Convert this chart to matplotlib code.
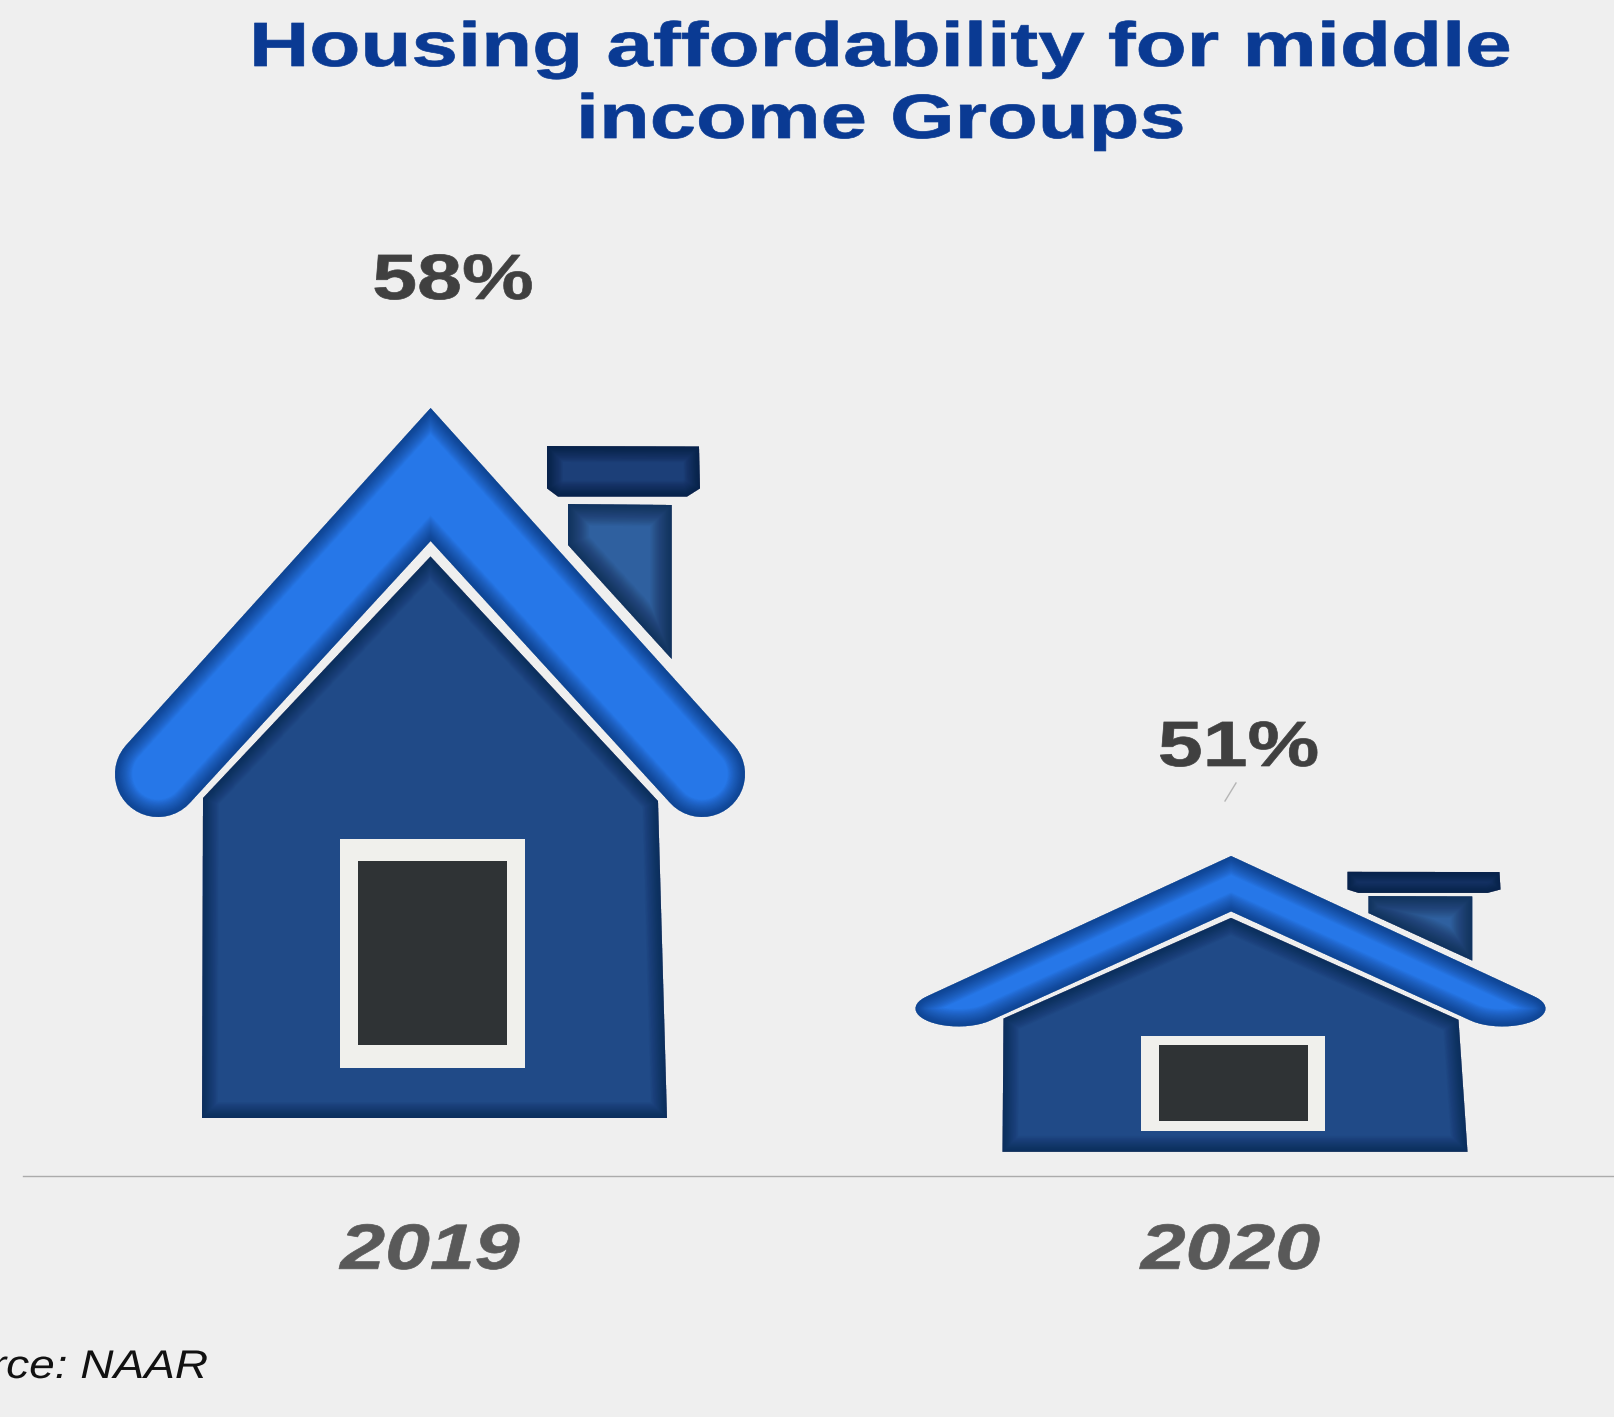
import numpy as np
import matplotlib
matplotlib.use("Agg")
import matplotlib.pyplot as plt
from matplotlib.lines import Line2D
from matplotlib.patches import PathPatch
from matplotlib.path import Path
from matplotlib.patheffects import AbstractPathEffect
from matplotlib.transforms import Affine2D

years = ["2019", "2020"]
affordability = [58, 51]
axis_floor = 46
axis_top = 64.375

title_lines = ["Housing affordability for middle", "income Groups"]
source_text = "Source: NAAR"

W, H = 1615, 1417
BG = "#efefef"

# house icon, outlines measured in a 630 x 768 box
BOX_W, BOX_H = 630.0, 768.0
body_pts = [(87, 58), (88, 378), (315.5, 619.5), (543, 375), (552, 58), (87, 58)]
shaft_pts = [(453, 672), (556.7, 671), (556.7, 517), (453, 631), (453, 672)]
cap_pts = [(432, 730), (584, 729.5), (585, 687.6), (572, 679.4), (443, 679.4), (432, 687.6), (432, 730)]
frame_pts = [(225.4, 108), (409.8, 108), (409.8, 337), (225.4, 337), (225.4, 108)]
door_pts = [(243, 131), (392.4, 131), (392.4, 315), (243, 315), (243, 131)]


def roof_end(cx, cy, start, stop):
    a = np.radians(np.linspace(start, stop, 24))
    return list(zip(cx + 43 * np.cos(a), cy + 43 * np.sin(a)))


roof_pts = ([(315.6, 768)] + roof_end(587, 402, 42, -138) + [(315.6, 635)]
            + roof_end(43, 402, -42, -222) + [(315.6, 768)])


class WideText(AbstractPathEffect):
    # the reference text is stretched sideways, keep it as text but widen the glyphs
    def __init__(self, cx, sx, weight=0.5):
        super().__init__()
        self.cx = cx
        self.sx = sx
        self.weight = weight

    def draw_path(self, renderer, gc, tpath, affine, rgbFace=None):
        wide = affine + Affine2D().translate(-self.cx, 0).scale(self.sx, 1).translate(self.cx, 0)
        gc0 = renderer.new_gc()
        gc0.copy_properties(gc)
        gc0.set_linewidth(self.weight)
        gc0.set_foreground(rgbFace)
        renderer.draw_path(gc0, tpath, wide, rgbFace)
        gc0.restore()


def px(size):
    return size * 72 / 100


plt.rcParams["font.family"] = ["Liberation Sans", "DejaVu Sans"]
fig = plt.figure(figsize=(W / 100, H / 100), dpi=100, facecolor=BG)

base_y = 1176
ax = fig.add_axes([23 / W, (H - base_y) / H, 1 - 23 / W, base_y / H])
ax.set_facecolor("none")
x_pos = np.arange(len(years))
ax.set_xlim((23 - 430) / 800.5, (W - 430) / 800.5)
ax.set_ylim(axis_floor, axis_top)
for side in ["top", "left", "right"]:
    ax.spines[side].set_visible(False)
ax.spines["bottom"].set_color("#ababab")
ax.spines["bottom"].set_linewidth(1.0)
ax.set_yticks([])
ax.set_xticks(x_pos)
ax.set_xticklabels(years, fontsize=px(64), fontweight="bold", fontstyle="italic", color="#595959")
ax.tick_params(axis="x", length=0, pad=33)

bar_w = BOX_W / 800.5


def icon_path(pts, x_c, value):
    pts = np.array(pts, dtype=float)
    xs = x_c + (pts[:, 0] / BOX_W - 0.5) * bar_w
    ys = axis_floor + pts[:, 1] / BOX_H * (value - axis_floor)
    codes = [Path.MOVETO] + [Path.LINETO] * (len(pts) - 2) + [Path.CLOSEPOLY]
    return Path(np.column_stack([xs, ys]), codes)


def shaded(path, fill, edge, alpha=0.03, reach=24, z=2):
    base = PathPatch(path, fc=fill, ec="none", zorder=z)
    ax.add_patch(base)
    for lw in np.arange(1, reach, 1.0):
        glow = PathPatch(path, fc="none", ec=edge, lw=lw, alpha=alpha, zorder=z + 0.1)
        ax.add_patch(glow)
        glow.set_clip_path(base)


for x_c, value in zip(x_pos, affordability):
    shaded(icon_path(shaft_pts, x_c, value), "#2f609f", "#0f2547", alpha=0.03, reach=32, z=2)
    shaded(icon_path(cap_pts, x_c, value), "#1c3f78", "#081a38", alpha=0.04, reach=24, z=2)
    shaded(icon_path(body_pts, x_c, value), "#204a87", "#0c2144", alpha=0.03, reach=24, z=3)
    shaded(icon_path(roof_pts, x_c, value), "#2677e8", "#0c2f66", alpha=0.035, reach=26, z=3)
    ax.add_patch(PathPatch(icon_path(frame_pts, x_c, value), fc="#f0f0ec", ec="none", zorder=4))
    ax.add_patch(PathPatch(icon_path(door_pts, x_c, value), fc="#2f3335", ec="none", zorder=5))

# value labels sit above each house, nudged in pixels like the reference
label_dx = [23, 8]
label_dy = [109, 90]
for x_c, value, dx, dy in zip(x_pos, affordability, label_dx, label_dy):
    cx = ax.transData.transform((x_c, value))[0] + dx
    ax.annotate(f"{value}%", xy=(x_c, value), xytext=(dx, dy), textcoords="offset pixels",
                ha="center", va="baseline", fontsize=px(64), fontweight="bold", color="#404040",
                annotation_clip=False, path_effects=[WideText(cx, 1.26)])

for tick_x, lab in zip(x_pos, ax.get_xticklabels()):
    lab.set_path_effects([WideText(ax.transData.transform((tick_x, axis_floor))[0], 1.26)])

# little stray leader mark above the 2020 house
fig.add_artist(Line2D([1236 / W, 1225 / W], [(H - 783) / H, (H - 801) / H], color="#b5b5b5", lw=1.0))

fig.text(881 / W, (H - 66) / H, title_lines[0], ha="center", va="baseline", fontsize=px(62.5),
         fontweight="bold", color="#0a3a93", path_effects=[WideText(881, 1.337)])
fig.text(881 / W, (H - 138) / H, title_lines[1], ha="center", va="baseline", fontsize=px(62.5),
         fontweight="bold", color="#0a3a93", path_effects=[WideText(881, 1.33)])

fig.text(208 / W, (H - 1378) / H, source_text, ha="right", va="baseline", fontsize=px(40),
         fontstyle="italic", color="#111111", path_effects=[WideText(208, 1.15, 0.0)])

fig.savefig("out.png", dpi=100, facecolor=BG)
